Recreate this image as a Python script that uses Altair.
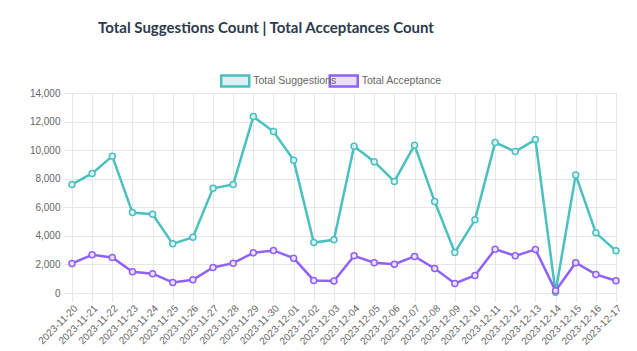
import altair as alt
import pandas as pd

dates = ["2023-11-20","2023-11-21","2023-11-22","2023-11-23","2023-11-24","2023-11-25","2023-11-26",
         "2023-11-27","2023-11-28","2023-11-29","2023-11-30","2023-12-01","2023-12-02","2023-12-03",
         "2023-12-04","2023-12-05","2023-12-06","2023-12-07","2023-12-08","2023-12-09","2023-12-10",
         "2023-12-11","2023-12-12","2023-12-13","2023-12-14","2023-12-15","2023-12-16","2023-12-17"]
suggestions = [7600, 8370, 9580, 5630, 5510, 3440, 3900, 7330, 7600, 12350, 11300, 9300, 3530, 3720,
               10280, 9190, 7810, 10350, 6400, 2840, 5120, 10530, 9900, 10740, 50, 8260, 4210, 2950]
acceptances = [2070, 2670, 2490, 1490, 1350, 740, 930, 1790, 2090, 2810, 2980, 2440, 880, 840,
               2600, 2120, 2020, 2560, 1720, 670, 1230, 3070, 2600, 3050, 160, 2120, 1300, 860]
series_names = ["Total Suggestions", "Total Acceptance"]
colors = ["#4bc0c0", "#9061f9"]
light_colors = ["#dbf2f2", "#e9dffe"]

df = pd.concat([
    pd.DataFrame({"date": dates, "value": suggestions, "series": series_names[0]}),
    pd.DataFrame({"date": dates, "value": acceptances, "series": series_names[1]}),
])
legend_df = pd.DataFrame({"series": series_names})

font = "Liberation Sans"

x = alt.X("date:N", sort=dates, title=None,
          scale=alt.Scale(paddingOuter=0, paddingInner=0, padding=0, align=0),
          axis=alt.Axis(labelAngle=-45, labelAlign="right", labelBaseline="top",
                        labelFont=font, labelFontSize=10, labelColor="#666666",
                        grid=True, gridColor="#e6e6e6", domain=False,
                        ticks=True, tickColor="#e6e6e6", tickSize=8, labelPadding=2))
y = alt.Y("value:Q", title=None,
          scale=alt.Scale(domain=[0, 14000], nice=False),
          axis=alt.Axis(values=list(range(0, 14001, 2000)), format=",d",
                        labelFont=font, labelFontSize=10, labelColor="#666666",
                        grid=True, gridColor="#e6e6e6", domain=False,
                        ticks=True, tickColor="#e6e6e6", tickSize=8, labelPadding=4))

stroke_scale = alt.Scale(domain=series_names, range=colors)
fill_scale = alt.Scale(domain=series_names, range=light_colors)

base = alt.Chart(df)

lines = base.mark_line(strokeWidth=2.5).encode(
    x=x, y=y,
    color=alt.Color("series:N", scale=stroke_scale, sort=series_names, legend=None),
)

points = base.mark_point(filled=False, size=36, strokeWidth=1.5, opacity=1).encode(
    x=x, y=y,
    stroke=alt.Stroke("series:N", scale=stroke_scale, sort=series_names, legend=None),
    fill=alt.Fill("series:N", scale=fill_scale, sort=series_names, legend=None),
)

data_layer = alt.layer(lines, points)

# legend drawn as its own small layer (point scale keeps its default 0.5 padding)
lx = alt.X("series:N", sort=series_names, axis=None,
           scale=alt.Scale(domain=series_names, range=[109, 326]))
leg_box = alt.Chart(legend_df).mark_rect(width=28, strokeWidth=2.5).encode(
    x=lx, y=alt.value(-17.5), y2=alt.value(-6.5),
    stroke=alt.Stroke("series:N", scale=stroke_scale, sort=series_names, legend=None),
    fill=alt.Fill("series:N", scale=fill_scale, sort=series_names, legend=None),
)
leg_text = alt.Chart(legend_df).mark_text(align="left", baseline="middle", dx=18,
                                          font=font, fontSize=10.5, color="#666666").encode(
    x=lx, y=alt.value(-12), text="series:N",
)
legend_layer = alt.layer(leg_box, leg_text)

chart = alt.layer(data_layer, legend_layer).resolve_scale(x="independent").properties(
    width=544, height=200,
    title=alt.TitleParams("Total Suggestions Count | Total Acceptances Count",
                          font="Lato", fontSize=15, fontWeight="bold", color="#2b3a4e",
                          anchor="middle", dx=-78, offset=38),
    padding={"left": 72, "top": 93, "right": 21, "bottom": 58},
    autosize=alt.AutoSizeParams(type="none"),
).configure_view(stroke=None).configure(background="white")

chart.save("out.html", embed_options={"renderer": "svg", "actions": False})
